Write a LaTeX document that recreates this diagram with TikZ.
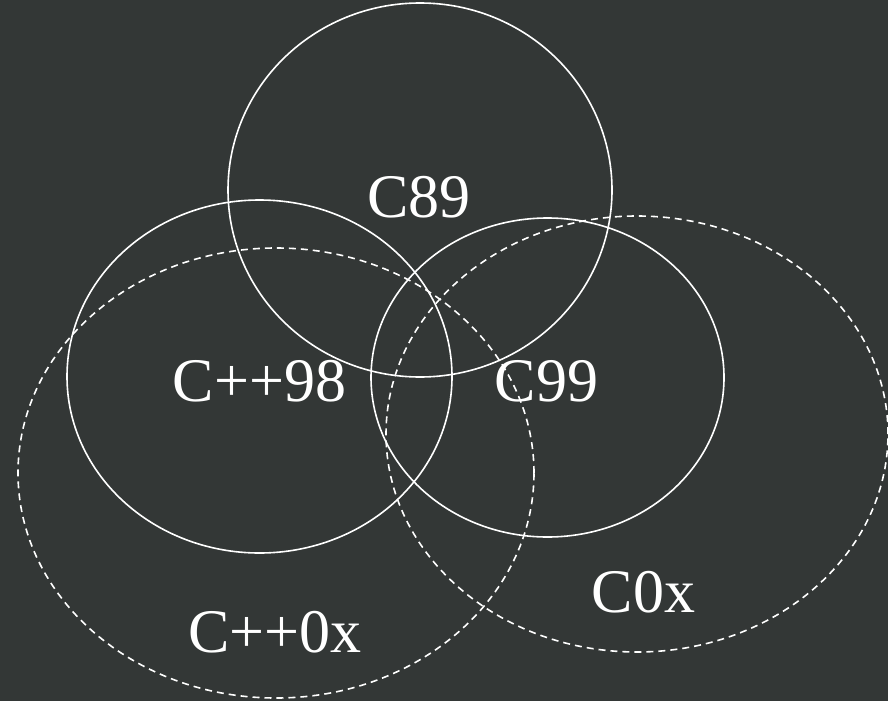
\documentclass[tikz,border=0pt]{standalone}
\usepackage{fontspec}
\setmainfont{Liberation Serif}
\usetikzlibrary{shapes.geometric}
\definecolor{board}{HTML}{333736}
\begin{document}
\begin{tikzpicture}[x=1pt,y=-1pt,
  setshape/.style={ellipse,draw=white,line width=1.6pt,inner sep=0pt,minimum width=#1},
  dashset/.style={dash pattern=on 7pt off 5pt},
  lbl/.style={text=white,anchor=base,inner sep=0pt,font=\fontsize{62}{70}\selectfont}]
\fill[board] (0,0) rectangle (888,701);
\useasboundingbox (0,0) rectangle (888,701);
\node[setshape=384pt,minimum height=374pt] (c89) at (420,190) {};
\node[setshape=385pt,minimum height=353pt] (cpp98) at (259.5,376.5) {};
\node[setshape=353pt,minimum height=319pt] (c99) at (547.5,377.5) {};
\node[setshape=516pt,minimum height=450pt,dashset] (cpp0x) at (276,473) {};
\node[setshape=502pt,minimum height=436pt,dashset] (c0x) at (637,434) {};
\node[lbl] (t89) at (419,217) {C89};
\node[lbl] (t98) at (259.5,401) {C++98};
\node[lbl] (t99) at (546.5,401) {C99};
\node[lbl] (tpp0x) at (275,652) {C++0x};
\node[lbl] (t0x) at (643.5,612) {C0x};
\end{tikzpicture}
\end{document}
